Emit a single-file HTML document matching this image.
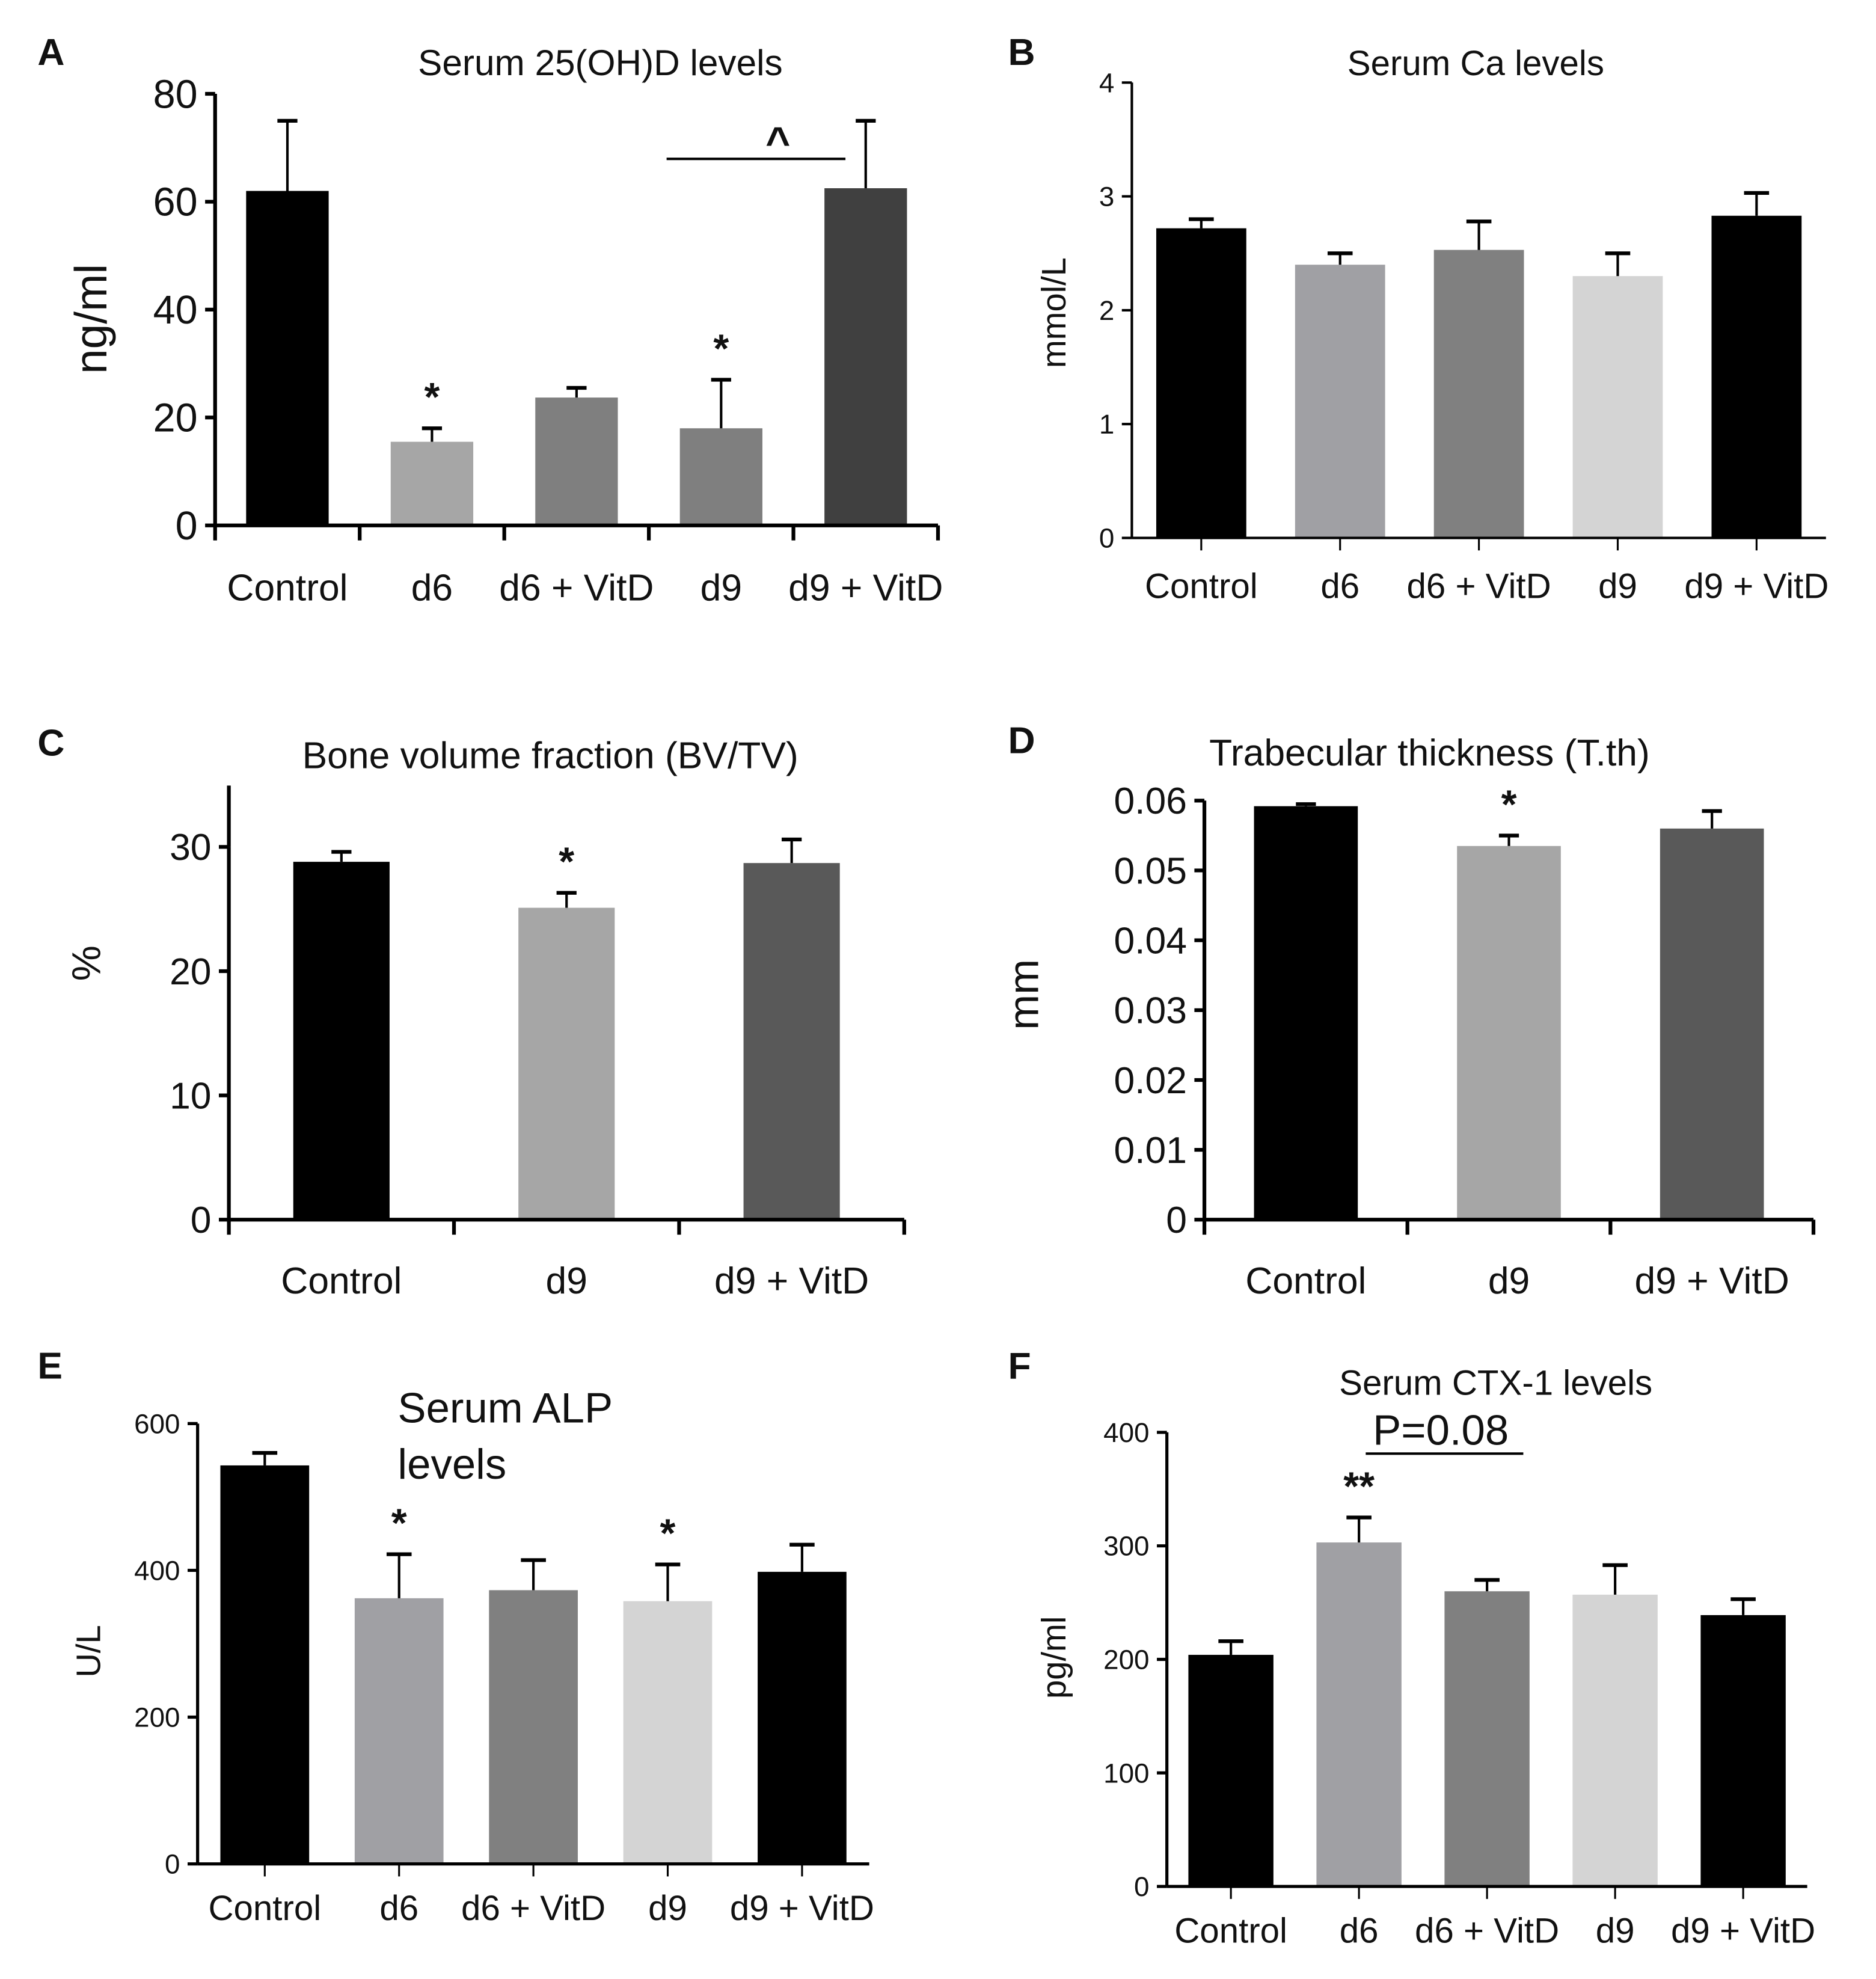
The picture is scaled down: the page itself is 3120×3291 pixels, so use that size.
<!DOCTYPE html>
<html><head><meta charset="utf-8"><style>
html,body{margin:0;padding:0;background:#fff;}
svg{display:block;font-family:"Liberation Sans",sans-serif;}
</style></head><body>
<svg id="fig" width="3120" height="3291" viewBox="0 0 1500 1582" preserveAspectRatio="none" xmlns="http://www.w3.org/2000/svg"></svg>
<script>
// Panel A
const catsA = ["Control","d6","d6 + VitD","d9","d9 + VitD"];
const valsA = [62,15.5,23.7,18,62.5];
const errA = [75,18,25.5,27,75];
const ticksA = [0,20,40,60,80];
// Panel B
const catsB = ["Control","d6","d6 + VitD","d9","d9 + VitD"];
const valsB = [2.72,2.4,2.53,2.3,2.83];
const errB = [2.8,2.5,2.78,2.5,3.03];
const ticksB = [0,1,2,3,4];
// Panel C
const catsC = ["Control","d9","d9 + VitD"];
const valsC = [28.8,25.1,28.7];
const errC = [29.6,26.3,30.6];
const ticksC = [0,10,20,30];
// Panel D
const catsD = ["Control","d9","d9 + VitD"];
const valsD = [0.0592,0.0535,0.056];
const errD = [0.0595,0.055,0.0585];
const ticksD = [0,0.01,0.02,0.03,0.04,0.05,0.06];
const tickLabelsD = ["0","0.01","0.02","0.03","0.04","0.05","0.06"];
// Panel E
const catsE = ["Control","d6","d6 + VitD","d9","d9 + VitD"];
const valsE = [543,362,373,358,398];
const errE = [560,422,414,408,435];
const ticksE = [0,200,400,600];
// Panel F
const catsF = ["Control","d6","d6 + VitD","d9","d9 + VitD"];
const valsF = [204,303,260,257,239];
const errF = [216,325,270,283,253];
const ticksF = [0,100,200,300,400];

const svg = document.getElementById('fig');
const NS = "http://www.w3.org/2000/svg";
function mk(tag, attrs, parent){
  const e = document.createElementNS(NS, tag);
  for (const k in attrs) e.setAttribute(k, attrs[k]);
  (parent||svg).appendChild(e);
  return e;
}
function txt(s, x, y, size, parent, extra){
  const t = mk('text', Object.assign({x:x, y:y, 'font-size':size, 'text-anchor':'middle', fill:'#111'}, extra||{}), parent);
  t.textContent = s;
  return t;
}

function panel(cfg){
  const g = mk('g', {});
  
  
  const yS = v => cfg.y0 + (cfg.y1 - cfg.y0) * (v - cfg.vmin) / (cfg.vmax - cfg.vmin);
  const n = cfg.cats.length;
  const step = (cfg.xEnd - cfg.xAxis - cfg.pad*2) / n;
  const xC = i => cfg.xAxis + cfg.pad + step*(i+0.5);
  // y axis
  const ya = mk('line', {x1:cfg.xAxis, y1:yS(cfg.vmax), x2:cfg.xAxis, y2:cfg.y0, stroke:'#000','stroke-width':cfg.sw}, g);
  
  
  cfg.ticks.forEach((v,i)=>{
    const y = yS(v);
    mk('line', {x1:cfg.xAxis-8, y1:y, x2:cfg.xAxis, y2:y, stroke:'#000','stroke-width':cfg.sw}, g);
    const t = txt(cfg.tickLabels ? cfg.tickLabels[i] : String(v), cfg.xAxis-14, y + cfg.tfs*0.35, cfg.tfs, g, {'text-anchor':'end'});
    
    
  });
  // bars
  cfg.vals.forEach((v,i)=>{
    const cx = xC(i), w = cfg.bw;
    const b = mk('rect', {x:cx-w/2, y:yS(v), width:w, height:cfg.y0-yS(v), fill:cfg.colors[i]}, g);
    
    
    const ey = yS(cfg.errs[i]);
    const ex = cfg.errLeft ? cx : cx;
    const e1 = mk('line', {x1:ex, y1:yS(v), x2:ex, y2:ey, stroke:'#000','stroke-width':2}, g);
    
    
    mk('line', {x1:ex-cfg.cap, y1:ey, x2:ex+cfg.cap, y2:ey, stroke:'#000','stroke-width':3}, g);
    const l = txt(cfg.cats[i], cx, cfg.labelY, cfg.lfs, g);
    
    
  });
  // x axis
  const xa = mk('line', {x1:cfg.xAxis, y1:cfg.y0, x2:cfg.xEnd, y2:cfg.y0, stroke:'#000','stroke-width':cfg.sw}, g);
  
  
  if (cfg.boundaryTicks){
    for (let i=0;i<=n;i++){
      const x = cfg.xAxis + step*i;
      mk('line', {x1:x, y1:cfg.y0, x2:x, y2:cfg.y0+12, stroke:'#000','stroke-width':cfg.sw}, g);
    }
  } else {
    for (let i=0;i<n;i++) mk('line', {x1:xC(i), y1:cfg.y0, x2:xC(i), y2:cfg.y0+10, stroke:'#000','stroke-width':1.5}, g);
  }
  const tt = txt(cfg.title, cfg.titleX, cfg.titleY, cfg.titleFs, g, cfg.titleAnchor?{'text-anchor':cfg.titleAnchor}:{});
  
  
  const yl = txt(cfg.ylabel, 0, 0, cfg.ylfs, g, {transform:`translate(${cfg.ylX},${cfg.ylY}) rotate(-90)`});
  
  
  const pl = txt(cfg.letter, cfg.letterX, cfg.letterY, 30, g, {'font-weight':'bold', 'text-anchor':'start'});
  
  
  (cfg.stars||[]).forEach(s=>{
    const st = txt(s[1], xC(s[0]), yS(cfg.errs[s[0]]) - 14, 32, g, {'font-weight':'bold'});
    
    
  });
  return {g, yS, xC};
}

const A = panel({name:'panel-a', cats:catsA, vals:valsA, errs:errA, ticks:ticksA, vmin:0, vmax:80,
  xAxis:172, xEnd:750, pad:0, y0:420, y1:75, bw:66, cap:8, sw:3, tfs:32, lfs:30, labelY:480,
  colors:['#000','#a6a6a6','#7f7f7f','#7f7f7f','#404040'], boundaryTicks:true,
  title:'Serum 25(OH)D levels', titleX:480, titleY:60, titleFs:29,
  ylabel:'ng/ml', ylX:85, ylY:255, ylfs:36, letter:'A', letterX:30, letterY:52, stars:[[1,'*'],[3,'*']]});
const br = mk('line', {x1:533, y1:127, x2:676, y2:127, stroke:'#000','stroke-width':2}, A.g);


txt('^', 622, 125, 34, A.g, {'font-weight':'bold'});

panel({name:'panel-b', cats:catsB, vals:valsB, errs:errB, ticks:ticksB, vmin:0, vmax:4,
  xAxis:905, xEnd:1460, pad:0, y0:430, y1:66, bw:72, cap:10, sw:2, tfs:22, lfs:28, labelY:478,
  colors:['#000','#a0a0a4','#808080','#d4d4d4','#000'],
  title:'Serum Ca levels', titleX:1180, titleY:60, titleFs:28,
  ylabel:'mmol/L', ylX:852, ylY:250, ylfs:27, letter:'B', letterX:806, letterY:52});

panel({name:'panel-c', cats:catsC, vals:valsC, errs:errC, ticks:ticksC, vmin:0, vmax:30,
  xAxis:183, xEnd:723, pad:0, y0:975, y1:677, bw:77, cap:8, sw:3, tfs:30, lfs:30, labelY:1034,
  colors:['#000','#a6a6a6','#595959'], boundaryTicks:true,
  title:'Bone volume fraction (BV/TV)', titleX:440, titleY:614, titleFs:30,
  ylabel:'%', ylX:80, ylY:770, ylfs:32, letter:'C', letterX:30, letterY:604, stars:[[1,'*']]});
mk('line',{x1:183,y1:628,x2:183,y2:677,stroke:'#000','stroke-width':3});

panel({name:'panel-d', cats:catsD, vals:valsD, errs:errD, ticks:ticksD, tickLabels:tickLabelsD, vmin:0, vmax:0.06,
  xAxis:963, xEnd:1450, pad:0, y0:975, y1:640, bw:83, cap:8, sw:3, tfs:30, lfs:30, labelY:1034,
  colors:['#000','#a6a6a6','#595959'], boundaryTicks:true,
  title:'Trabecular thickness (T.th)', titleX:1143, titleY:612, titleFs:30,
  ylabel:'mm', ylX:830, ylY:795, ylfs:34, letter:'D', letterX:806, letterY:602, stars:[[1,'*']]});

panel({name:'panel-e', cats:catsE, vals:valsE, errs:errE, ticks:ticksE, vmin:0, vmax:600,
  xAxis:158, xEnd:695, pad:0, y0:1490, y1:1138, bw:71, cap:10, sw:2.5, tfs:22, lfs:28, labelY:1535,
  colors:['#000','#a0a0a4','#808080','#d4d4d4','#000'],
  title:'Serum ALP', titleX:318, titleY:1137, titleFs:34, titleAnchor:'start',
  ylabel:'U/L', ylX:80, ylY:1320, ylfs:27, letter:'E', letterX:30, letterY:1102, stars:[[1,'*'],[3,'*']]});
const lv = txt('levels', 318, 1182, 34, null, {'text-anchor':'start'});



const F = panel({name:'panel-f', cats:catsF, vals:valsF, errs:errF, ticks:ticksF, vmin:0, vmax:400,
  xAxis:933, xEnd:1445, pad:0, y0:1508, y1:1145, bw:68, cap:10, sw:2.5, tfs:22, lfs:28, labelY:1553,
  colors:['#000','#a0a0a4','#808080','#d4d4d4','#000'],
  title:'Serum CTX-1 levels', titleX:1196, titleY:1115, titleFs:28,
  ylabel:'pg/ml', ylX:852, ylY:1325, ylfs:27, letter:'F', letterX:806, letterY:1102, stars:[[1,'**']]});
const p = txt('P=0.08', 1152, 1155, 34, F.g);


mk('line',{x1:1092,y1:1162,x2:1218,y2:1162,stroke:'#000','stroke-width':2}, F.g);
</script>
</body></html>
